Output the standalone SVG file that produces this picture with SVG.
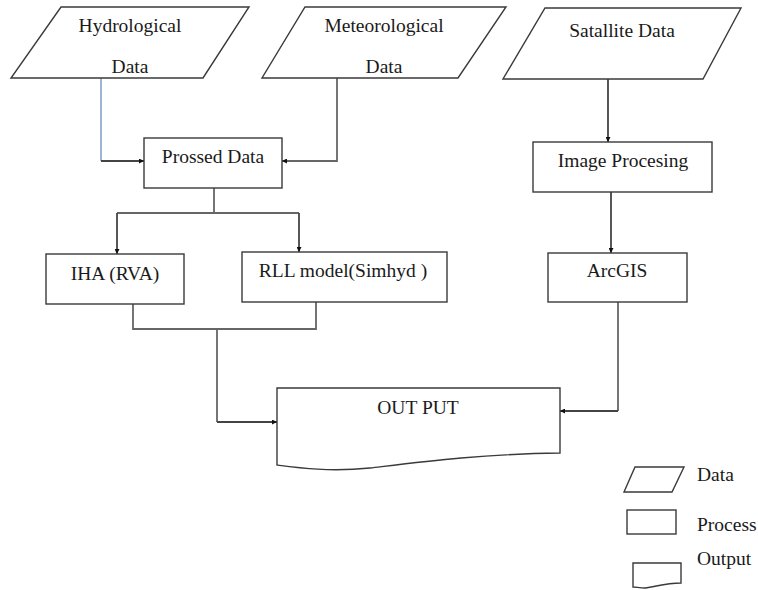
<svg xmlns="http://www.w3.org/2000/svg" width="758" height="590" viewBox="0 0 758 590">
<style>
.shape{fill:#fff;stroke:#3a3a3a;stroke-width:1.4}
.lbl{font-family:'Liberation Serif','Times New Roman',Times,serif;font-size:19.5px;fill:#1a1a1a;text-anchor:middle}
.leg{font-family:'Liberation Serif','Times New Roman',Times,serif;font-size:19.5px;fill:#1a1a1a}
.conn{fill:none;stroke:#666;stroke-width:1.8}
.blue{fill:none;stroke:#93acd3;stroke-width:1.8}
.dark{fill:none;stroke:#444;stroke-width:1.8}
</style>
<defs>
<marker id="arr" viewBox="0 0 10 10" refX="10" refY="5" markerWidth="5" markerHeight="5" orient="auto" markerUnits="userSpaceOnUse">
<path d="M0,0 L10,5 L0,10 z" fill="#111"/>
</marker>
</defs>
<rect width="758" height="590" fill="#fff"/>
<g id="connectors">
<path class="blue" d="M101,78 V161"/>
<path class="dark" d="M101,161 H144" marker-end="url(#arr)"/>
<path class="conn" d="M337,78 V161 H282" marker-end="url(#arr)"/>
<path class="conn" d="M214,188 V213"/>
<path class="conn" d="M117,213 H299"/>
<path class="dark" d="M117,213 V254" marker-end="url(#arr)"/>
<path class="dark" d="M299,213 V252" marker-end="url(#arr)"/>
<path class="conn" d="M133,304 V329 H316 V302"/>
<path class="conn" d="M217,329 V422"/>
<path class="dark" d="M217,422 H277" marker-end="url(#arr)"/>
<path class="dark" d="M608,79 V142" marker-end="url(#arr)"/>
<path class="dark" d="M611,192 V253" marker-end="url(#arr)"/>
<path class="conn" d="M618,302 V411"/>
<path class="dark" d="M618,411 H560" marker-end="url(#arr)"/>
</g>
<g id="hydro">
<polygon class="shape" points="61,7 249,7 203,78 11,78"/>
<text class="lbl" x="130" y="32">Hydrological</text>
<text class="lbl" x="130" y="73">Data</text>
</g>
<g id="meteo">
<polygon class="shape" points="305,7 506,7 458,78 262,78"/>
<text class="lbl" x="384" y="32">Meteorological</text>
<text class="lbl" x="384" y="73">Data</text>
</g>
<g id="satellite">
<polygon class="shape" points="545,8 741,8 703,79 503,79"/>
<text class="lbl" x="622" y="37">Satallite Data</text>
</g>
<g id="prossed">
<rect class="shape" x="144" y="138" width="138" height="50"/>
<text class="lbl" x="213" y="163">Prossed Data</text>
</g>
<g id="imageproc">
<rect class="shape" x="533" y="142" width="179" height="50"/>
<text class="lbl" x="623" y="167">Image Procesing</text>
</g>
<g id="iha">
<rect class="shape" x="46" y="254" width="138" height="50"/>
<text class="lbl" x="115" y="280">IHA (RVA)</text>
</g>
<g id="rll">
<rect class="shape" x="242" y="252" width="205" height="50"/>
<text class="lbl" x="343" y="277">RLL model(Simhyd )</text>
</g>
<g id="arcgis">
<rect class="shape" x="548" y="253" width="139" height="49"/>
<text class="lbl" x="617" y="277">ArcGIS</text>
</g>
<g id="output">
<path class="shape" d="M277,388 H560 V453 C480,454 420,462 370,468 C330,472 300,468 277,465 Z"/>
<text class="lbl" x="418" y="414">OUT PUT</text>
</g>
<g id="legend">
<polygon class="shape" points="635,467 684,467 672,492 624,492"/>
<text class="leg" x="697" y="481">Data</text>
<rect class="shape" x="627" y="510" width="49" height="24"/>
<text class="leg" x="697" y="531">Process</text>
<path class="shape" d="M633,563 H681 V583 C665,583 655,587 645,588 C640,588 636,587 633,587 Z"/>
<text class="leg" x="697" y="565">Output</text>
</g>
</svg>
